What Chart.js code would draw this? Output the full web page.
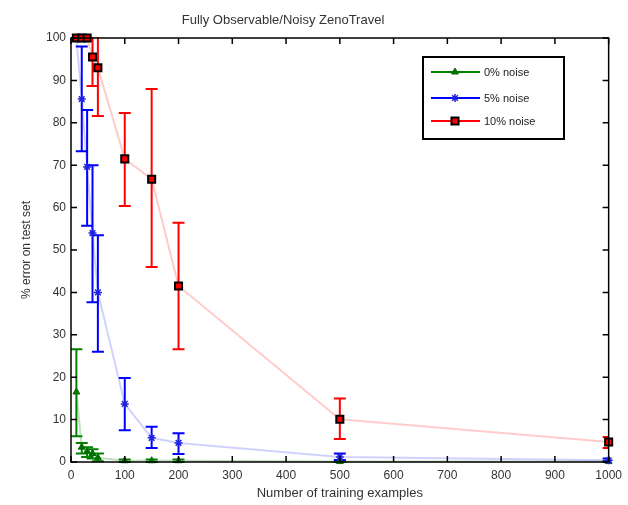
<!DOCTYPE html>
<html>
<head>
<meta charset="utf-8">
<script src="https://cdn.jsdelivr.net/npm/chart.js@4/dist/chart.umd.min.js"></script>
<style>
  html, body { margin: 0; padding: 0; background: #fff; }
  canvas { display: block; }
</style>
</head>
<body>
<canvas id="chart" width="628" height="505"></canvas>
<script>
// training set sizes
const trainSizes = [10, 20, 30, 40, 50, 100, 150, 200, 500, 1000];

// % error on test set, with lower / upper error bar ends
const noise0 = [16.5, 3.5, 2.5, 2.0, 1.0, 0.3, 0.3, 0.3, 0.1, 0.1];
const noise0Low = [6.1, 2.0, 1.2, 0.8, 0.2, 0, 0, 0, 0, 0];
const noise0High = [26.6, 4.5, 3.5, 3.0, 2.0, 0.6, 0.6, 0.6, 0.2, 0.2];

const noise5 = [100, 85.6, 69.6, 54, 40, 13.7, 5.7, 4.5, 1.2, 0.4];
const noise5Low = [100, 73.3, 55.7, 37.7, 26, 7.5, 3.3, 1.9, 0.5, 0.1];
const noise5High = [100, 98, 83, 70, 53.5, 19.8, 8.3, 6.8, 2.0, 0.8];

const noise10 = [100, 100, 100, 95.5, 93, 71.5, 66.7, 41.5, 10.1, 4.7];
const noise10Low = [100, 100, 100, 88.7, 81.6, 60.4, 46, 26.6, 5.4, 3.3];
const noise10High = [100, 100, 100, 104, 106, 82.3, 88, 56.4, 15, 5.9];

const seriesNames = ["0% noise", "5% noise", "10% noise"];
const xTicks = [0, 100, 200, 300, 400, 500, 600, 700, 800, 900, 1000];
const yTicks = [0, 10, 20, 30, 40, 50, 60, 70, 80, 90, 100];

const FONT = "'Liberation Sans', Arial, sans-serif";

function pts(ys) {
  return trainSizes.map((x, i) => ({ x: x, y: ys[i] }));
}

const errorBars = [
  { low: noise0Low, high: noise0High, color: "#008000" },
  { low: noise5Low, high: noise5High, color: "#0000ff" },
  { low: noise10Low, high: noise10High, color: "#ff0000" },
];

const errorBarPlugin = {
  id: "errorBars",
  beforeDatasetsDraw(chart) {
    const ctx = chart.ctx;
    const xs = chart.scales.x, ys = chart.scales.y;
    const a = chart.chartArea;
    ctx.save();
    ctx.beginPath();
    ctx.rect(a.left, a.top - 1, a.right - a.left, a.bottom - a.top + 2);
    ctx.clip();
    ctx.lineWidth = 2;
    errorBars.forEach((eb) => {
      ctx.strokeStyle = eb.color;
      trainSizes.forEach((x, i) => {
        if (eb.high[i] - eb.low[i] < 0.01) return;
        const px = xs.getPixelForValue(x);
        const yl = ys.getPixelForValue(eb.low[i]);
        const yh = ys.getPixelForValue(eb.high[i]);
        ctx.beginPath();
        ctx.moveTo(px, yl); ctx.lineTo(px, yh);
        ctx.moveTo(px - 6, yl); ctx.lineTo(px + 6, yl);
        ctx.moveTo(px - 6, yh); ctx.lineTo(px + 6, yh);
        ctx.stroke();
      });
    });
    ctx.restore();
  },
};

const frameLegendPlugin = {
  id: "frameLegend",
  afterDraw(chart) {
    const ctx = chart.ctx;
    const a = chart.chartArea;
    const xs = chart.scales.x, ys = chart.scales.y;
    ctx.save();
    // axes box
    ctx.strokeStyle = "#000";
    ctx.lineWidth = 1.5;
    ctx.strokeRect(a.left, a.top, a.right - a.left, a.bottom - a.top);
    // inward ticks
    ctx.beginPath();
    xTicks.forEach((v) => {
      const px = xs.getPixelForValue(v);
      ctx.moveTo(px, a.bottom); ctx.lineTo(px, a.bottom - 6);
      ctx.moveTo(px, a.top); ctx.lineTo(px, a.top + 6);
    });
    yTicks.forEach((v) => {
      const py = ys.getPixelForValue(v);
      ctx.moveTo(a.left, py); ctx.lineTo(a.left + 6, py);
      ctx.moveTo(a.right, py); ctx.lineTo(a.right - 6, py);
    });
    ctx.stroke();

    // title
    ctx.fillStyle = "#333";
    ctx.font = "13px " + FONT;
    ctx.textAlign = "center";
    ctx.textBaseline = "middle";
    ctx.fillText("Fully Observable/Noisy ZenoTravel", 283, 20);

    // legend box
    const lx = 423, ly = 57, lw = 141, lh = 82;
    ctx.fillStyle = "#fff";
    ctx.fillRect(lx, ly, lw, lh);
    ctx.lineWidth = 2;
    ctx.strokeStyle = "#000";
    ctx.strokeRect(lx, ly, lw, lh);
    const rows = [72, 98, 121];
    ctx.font = "11px " + FONT;
    ctx.textAlign = "left";
    chart.data.datasets.forEach((ds, i) => {
      const y = rows[i];
      ctx.strokeStyle = errorBars[i].color;
      ctx.lineWidth = 2;
      ctx.beginPath();
      ctx.moveTo(431, y); ctx.lineTo(480, y);
      ctx.stroke();
      ctx.fillStyle = ds.pointBackgroundColor;
      ctx.strokeStyle = ds.pointBorderColor;
      ctx.lineWidth = ds.pointBorderWidth;
      Chart.helpers.drawPoint(ctx, {
        pointStyle: ds.pointStyle,
        radius: ds.pointRadius,
        borderWidth: ds.pointBorderWidth,
        rotation: 0,
      }, 455, y);
      ctx.fillStyle = "#222";
      ctx.fillText(seriesNames[i], 484, y + 1);
    });
    ctx.restore();
  },
};

new Chart(document.getElementById("chart"), {
  type: "line",
  data: {
    datasets: [
      {
        label: seriesNames[0],
        data: pts(noise0),
        order: 2,
        borderColor: "rgba(0,128,0,0.25)",
        borderWidth: 2,
        pointStyle: "triangle",
        pointRadius: 4,
        pointBorderWidth: 1,
        pointBackgroundColor: "#007000",
        pointBorderColor: "#007000",
        clip: false,
      },
      {
        label: seriesNames[1],
        data: pts(noise5),
        order: 1,
        borderColor: "rgba(0,0,255,0.18)",
        borderWidth: 2,
        pointStyle: "star",
        pointRadius: 4,
        pointBorderWidth: 1.5,
        pointBackgroundColor: "#0000ff",
        pointBorderColor: "#2020e0",
        clip: false,
      },
      {
        label: seriesNames[2],
        data: pts(noise10),
        order: 0,
        borderColor: "rgba(255,0,0,0.2)",
        borderWidth: 2,
        pointStyle: "rect",
        pointRadius: 5,
        pointBorderWidth: 2,
        pointBackgroundColor: "#ff0000",
        pointBorderColor: "#000",
        clip: false,
      },
    ],
  },
  options: {
    responsive: false,
    maintainAspectRatio: false,
    animation: false,
    devicePixelRatio: 1,
    layout: { padding: { left: 0, top: 38, right: 17, bottom: 0 } },
    plugins: { legend: { display: false }, tooltip: { enabled: false } },
    scales: {
      x: {
        type: "linear",
        min: 0,
        max: 1000,
        afterFit(scale) { scale.height = 43; },
        afterBuildTicks(scale) { scale.ticks = xTicks.map((v) => ({ value: v })); },
        grid: { display: false, drawTicks: false },
        border: { display: false },
        ticks: {
          color: "#333", font: { family: FONT, size: 12 }, padding: 6,
          maxRotation: 0, autoSkip: false,
          callback: (v) => String(v),
        },
        title: {
          display: true,
          text: "Number of training examples",
          color: "#333",
          font: { family: FONT, size: 13 },
          padding: { top: 0, bottom: 4 },
        },
      },
      y: {
        type: "linear",
        min: 0,
        max: 100,
        afterFit(scale) { scale.width = 71; },
        afterBuildTicks(scale) { scale.ticks = yTicks.map((v) => ({ value: v })); },
        grid: { display: false, drawTicks: false },
        border: { display: false },
        ticks: {
          color: "#333", font: { family: FONT, size: 12 }, padding: 5,
          autoSkip: false, callback: (v) => String(v),
        },
        title: {
          display: true,
          text: "% error on test set",
          color: "#333",
          font: { family: FONT, size: 12 },
          padding: { top: 19, bottom: 0 },
        },
      },
    },
  },
  plugins: [errorBarPlugin, frameLegendPlugin],
});
</script>
</body>
</html>
